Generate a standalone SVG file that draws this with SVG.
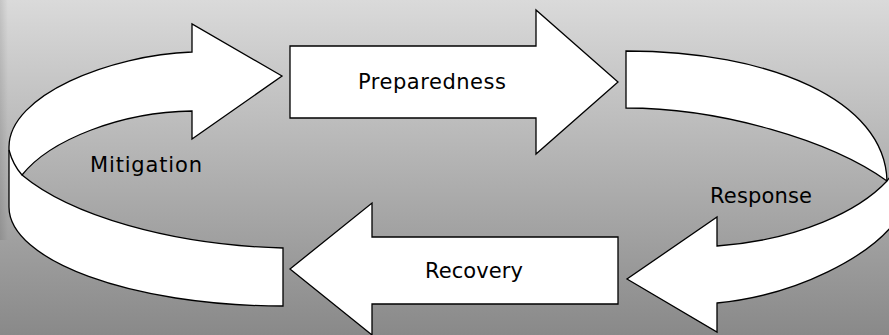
<svg xmlns="http://www.w3.org/2000/svg" width="889" height="335" viewBox="0 0 889 335">
  <defs>
    <linearGradient id="bg" x1="0" y1="0" x2="0" y2="1">
      <stop offset="0" stop-color="#dadada"/>
      <stop offset="1" stop-color="#898989"/>
    </linearGradient>
    <linearGradient id="edge" x1="0" y1="0" x2="1" y2="0">
      <stop offset="0" stop-color="#000" stop-opacity="0.1"/>
      <stop offset="1" stop-color="#000" stop-opacity="0"/>
    </linearGradient>
  </defs>
  <style>
    .shape { fill: #ffffff; stroke: #000000; stroke-width: 1.3; stroke-linejoin: miter; }
    .line { fill: none; stroke: #000000; stroke-width: 1.3; }
    .label { font-family: "DejaVu Sans", "Liberation Sans", sans-serif; font-size: 21px; fill: #000000; }
  </style>
  <rect x="0" y="0" width="889" height="335" fill="url(#bg)"/>
  <rect x="0" y="0" width="8" height="240" fill="url(#edge)"/>

  <g id="mitigation">
    <path class="shape" d="M283,306 C130,306 9,260 9,207 L9,147 C9,95 110,55 192,52 L192,24 L282,76 L192,139 L192,111 C120,112 50,140 22,175 C70,215 170,245 283,248 Z"/>
    <path class="line" d="M9,150 Q13,165 22,175"/>
    <text class="label" x="90" y="172" textLength="112" lengthAdjust="spacing">Mitigation</text>
  </g>

  <g id="preparedness">
    <path class="shape" d="M290,46 L536,46 L536,10 L618,82 L536,154 L536,118 L290,118 Z"/>
    <text class="label" x="358" y="89" textLength="148" lengthAdjust="spacing">Preparedness</text>
  </g>

  <g id="response">
    <path class="shape" d="M626,51 C770,51 885,100 887,181 C830,140 720,108 626,108 Z"/>
    <path class="shape" d="M887,181 C860,210 800,240 717,246 L717,217 L627,279 L717,332 L717,303 C800,295 870,255 895,222 L895,170 Z"/>
    <text class="label" x="710" y="203" textLength="102" lengthAdjust="spacing">Response</text>
  </g>

  <g id="recovery">
    <path class="shape" d="M618,237 L372,237 L372,203 L290,269 L372,335 L372,304 L618,304 Z"/>
    <text class="label" x="425" y="278" textLength="98" lengthAdjust="spacing">Recovery</text>
  </g>

  <g id="connectors"></g>
</svg>
